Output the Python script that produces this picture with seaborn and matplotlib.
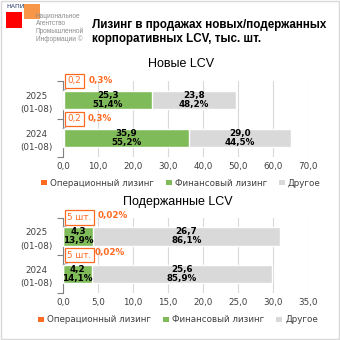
import matplotlib
matplotlib.use("Agg")
import matplotlib.pyplot as plt
import seaborn as sns
import pandas as pd
from matplotlib.patches import Rectangle, Patch

# ---- data ----
periods = ["2025\n(01-08)", "2024\n(01-08)"]
series_names = ["Операционный лизинг", "Финансовый лизинг", "Другое"]

new_oper = [0.2, 0.2]
new_fin = [25.3, 35.9]
new_other = [23.8, 29.0]
new_oper_lbl = ["0,2", "0,2"]
new_oper_pct = ["0,3%", "0,3%"]
new_fin_pct = ["51,4%", "55,2%"]
new_other_pct = ["48,2%", "44,5%"]

used_oper = [0.005, 0.005]
used_fin = [4.3, 4.2]
used_other = [26.7, 25.6]
used_oper_lbl = ["5 шт.", "5 шт."]
used_oper_pct = ["0,02%", "0,02%"]
used_fin_pct = ["13,9%", "14,1%"]
used_other_pct = ["86,1%", "85,9%"]

new_ticks = [0, 10, 20, 30, 40, 50, 60, 70]
used_ticks = [0, 5, 10, 15, 20, 25, 30, 35]

title = "Лизинг в продажах новых/подержанных\nкорпоративных LCV, тыс. шт."
sub_new = "Новые LCV"
sub_used = "Подержанные LCV"

C_OPER = "#FF6A21"
C_FIN = "#80BB5A"
C_OTHER = "#D9D9D9"
C_TXT = "#404040"
FS = 6.3

sns.set_theme(style="white")
plt.rcParams["font.family"] = ["DejaVu Sans"]

fig = plt.figure(figsize=(3.4, 3.4), dpi=100)
W = H = 340.0


def fx(px):
    return px / W


def fy(py):
    return 1 - py / H


def draw_panel(ax, oper, fin, other, oper_lbl, fin_pct, other_pct, ticks):
    df = pd.DataFrame({
        "period": periods,
        "oper": oper,
        "fin": fin,
        "other": other,
    })
    df["c_fin"] = df["oper"] + df["fin"]
    df["c_all"] = df["c_fin"] + df["other"]
    w = 0.49
    sns.barplot(data=df, y="period", x="c_all", order=periods, color=C_OTHER,
                saturation=1, width=w, orient="h", ax=ax, zorder=2)
    sns.barplot(data=df, y="period", x="c_fin", order=periods, color=C_FIN,
                saturation=1, width=w, orient="h", ax=ax, zorder=3)
    sns.barplot(data=df, y="period", x="oper", order=periods, color=C_OPER,
                saturation=1, width=w, orient="h", ax=ax, zorder=4)
    ax.set_xlim(ticks[0], ticks[-1])
    ax.set_ylim(1.5, -0.5)
    ax.set_xticks(ticks)
    ax.set_xticklabels([f"{t:.1f}".replace(".", ",") for t in ticks],
                       fontsize=FS, color=C_TXT)
    ax.tick_params(axis="x", length=0, pad=3.5)
    ax.set_yticks(range(len(periods)))
    ax.set_yticklabels(periods, fontsize=FS, color=C_TXT, ha="center",
                       linespacing=1.6)
    ax.tick_params(axis="y", length=0, pad=19)
    ax.set_yticks([-0.5, 0.5, 1.5], minor=True)
    ax.tick_params(axis="y", which="minor", length=4, width=0.8, color="#808080",
                   left=True)
    ax.set_xlabel("")
    ax.set_ylabel("")
    for s in ["top", "right", "bottom"]:
        ax.spines[s].set_visible(False)
    ax.spines["left"].set_color("#808080")
    ax.spines["left"].set_linewidth(0.8)
    ax.grid(axis="x", color="#D9D9D9", linewidth=0.8, zorder=0)
    ax.set_axisbelow(True)
    for i in range(len(periods)):
        xf = oper[i] + fin[i] / 2
        ax.text(xf, i, f"{fin[i]:.1f}".replace(".", ",") + "\n" + fin_pct[i],
                ha="center", va="center", fontsize=FS, fontweight="bold",
                color="black", linespacing=1.0, zorder=5)
        xo = oper[i] + fin[i] + other[i] / 2
        ax.text(xo, i, f"{other[i]:.1f}".replace(".", ",") + "\n" + other_pct[i],
                ha="center", va="center", fontsize=FS, fontweight="bold",
                color="black", linespacing=1.0, zorder=5)
        top = i - w / 2
        ax.annotate(oper_lbl[i], xy=(0, top), xycoords="data",
                    xytext=(3, 7), textcoords="offset points",
                    fontsize=FS, color=C_OPER, ha="left", va="center",
                    bbox=dict(boxstyle="square,pad=0.3", fc="white",
                              ec=C_OPER, lw=0.9),
                    arrowprops=dict(arrowstyle="-", color="#A6A6A6",
                                    lw=0.7, shrinkA=0, shrinkB=0,
                                    relpos=(0.35, 0)),
                    zorder=6, annotation_clip=False)
    return ax


ax1 = fig.add_axes([fx(63), fy(157), fx(245), 76 / H])
draw_panel(ax1, new_oper, new_fin, new_other, new_oper_lbl,
           new_fin_pct, new_other_pct, new_ticks)
ax2 = fig.add_axes([fx(63), fy(293), fx(245), 75.5 / H])
draw_panel(ax2, used_oper, used_fin, used_other, used_oper_lbl,
           used_fin_pct, used_other_pct, used_ticks)

# percentage texts next to callout boxes
pct_pos = [(new_oper_pct[0], 89, 81), (new_oper_pct[1], 88, 118.5),
           (used_oper_pct[0], 98, 215.5), (used_oper_pct[1], 95, 253)]
for txt, px, py in pct_pos:
    fig.text(fx(px), fy(py), txt, fontsize=FS, fontweight="bold",
             color=C_OPER, va="center")

# subtitles
fig.text(fx(181), fy(64), sub_new, fontsize=9, ha="center", va="center",
         color="black", family="Liberation Sans")
fig.text(fx(178), fy(202), sub_used, fontsize=9, ha="center", va="center",
         color="black", family="Liberation Sans")

# main title
fig.text(fx(92), fy(32), title, fontsize=8.4, fontweight="bold", ha="left",
         va="center", color="black", family="Liberation Sans", linespacing=1.2)

# legends
handles = [Patch(facecolor=c, edgecolor="none") for c in (C_OPER, C_FIN, C_OTHER)]
for yy, xc in [(183, 181), (320, 178)]:
    fig.legend(handles, series_names, loc="center", bbox_to_anchor=(fx(xc), fy(yy)),
               ncol=3, frameon=False, fontsize=FS, handlelength=0.65,
               handleheight=0.65, handletextpad=0.35, columnspacing=1.4,
               labelcolor=C_TXT)

# logo
fig.add_artist(Rectangle((fx(6), fy(28)), fx(16), 16 / H, transform=fig.transFigure,
                         color="#FF0000", lw=0))
fig.add_artist(Rectangle((fx(24), fy(19)), fx(16), 15 / H, transform=fig.transFigure,
                         color="#F79646", lw=0))
fig.text(fx(6), fy(6.5), "НАПИ", fontsize=4.5, color="#1F3864", va="center")
for k, line in enumerate(["Национальное", "Агентство", "Промышленной", "Информации ©"]):
    fig.text(fx(36), fy(16 + k * 7.8), line, fontsize=4.7, color="#8C8C8C",
             va="center", family="Liberation Sans")

# figure border
fig.add_artist(Rectangle((0.002, 0.002), 0.994, 0.994, transform=fig.transFigure,
                         fill=False, ec="#D9D9D9", lw=1))

fig.savefig("out.png", dpi=100)
